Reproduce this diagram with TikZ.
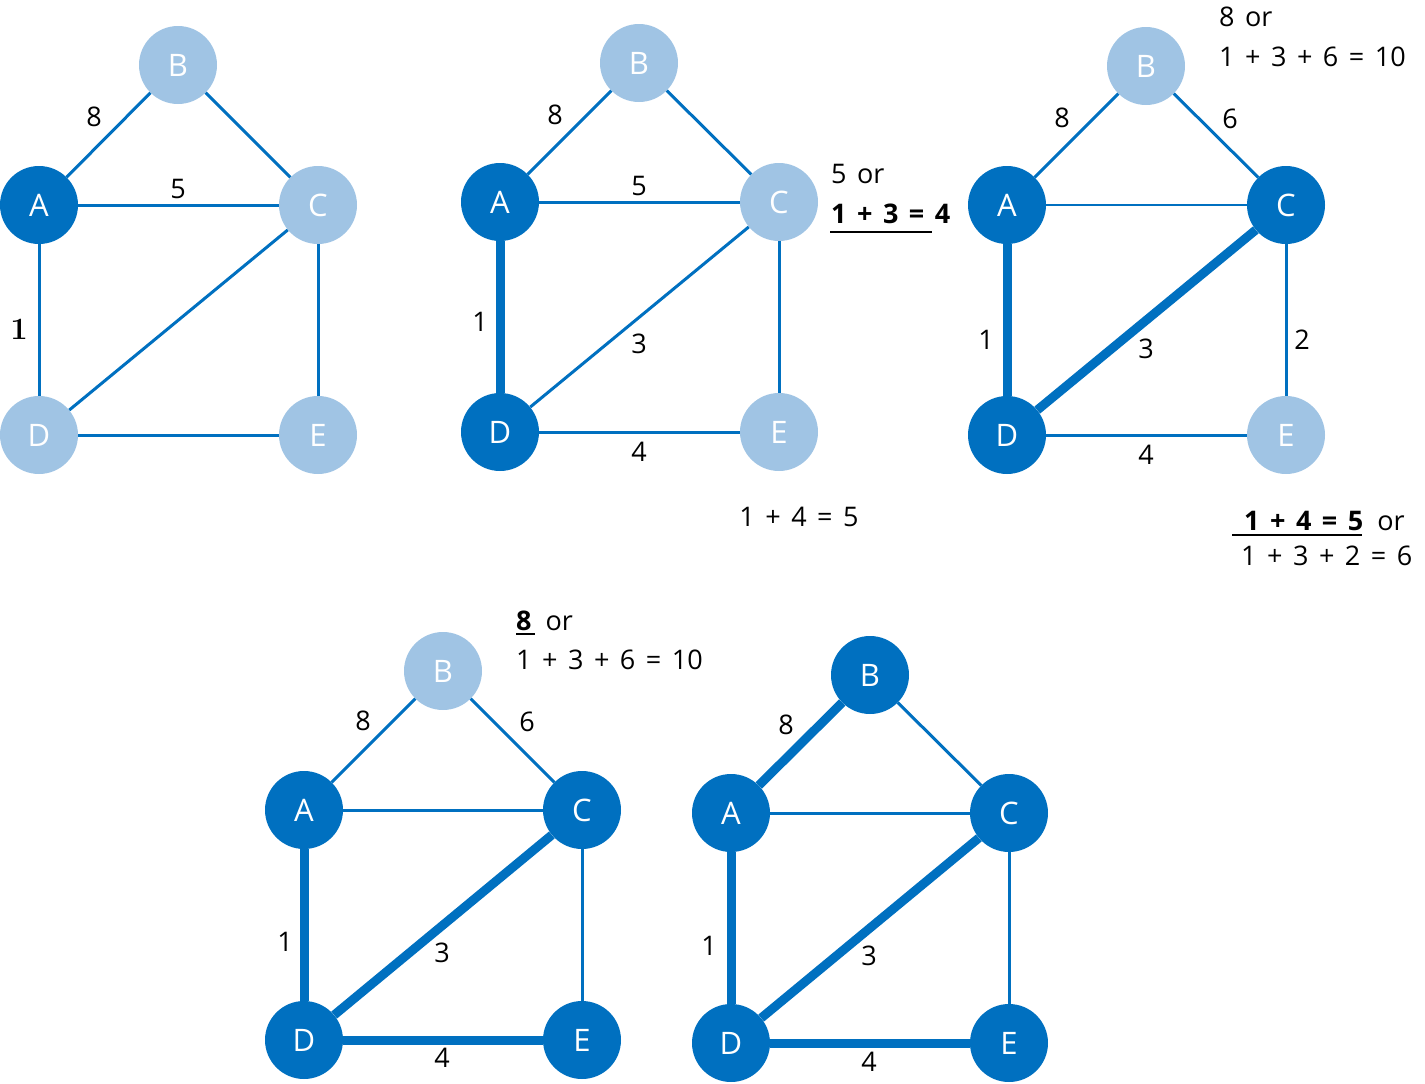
\documentclass[tikz,border=0pt]{standalone}
\usepackage{fontspec}
\setsansfont{Open Sans}
\newcommand\widespaces{\spaceskip=10.5pt\relax}
\begin{document}
\begin{tikzpicture}[x=1pt,y=-1pt,
  dk/.style={circle,fill=dkblue,minimum size=78pt,inner sep=0pt,text=white,font=\sffamily\fontsize{31}{33}\selectfont},
  lt/.style={dk,fill=ltblue},
  thin/.style={draw=dkblue,line width=3pt},
  hair/.style={draw=dkblue,line width=2pt},
  thick/.style={draw=dkblue,line width=9pt},
  lab/.style={font=\sffamily\fontsize{27}{30}\selectfont,inner sep=0pt,execute at begin node=\widespaces},
  txt/.style={lab,anchor=west}]
\definecolor{dkblue}{RGB}{0,112,192}
\definecolor{ltblue}{RGB}{160,196,228}
\useasboundingbox (0,0) rectangle (1425,1084);
% ---------- graph 1
\node[dk] (A1) at (39,205) {A};
\node[lt] (B1) at (178,65) {B};
\node[lt] (C1) at (318,205) {C};
\node[lt] (D1) at (39,435) {D};
\node[lt] (E1) at (318,435) {E};
\draw[thin] (A1) -- (B1);
\draw[thin] (B1) -- (C1);
\draw[thin] (A1) -- (C1);
\draw[thin] (A1) -- (D1);
\draw[thin] (C1) -- (D1);
\draw[thin] (C1) -- (E1);
\draw[thin] (D1) -- (E1);
\node[lab] (l1a) at (94,117) {8};
\node[lab] (l1b) at (178,189) {5};
\node[lab,font=\rmfamily\bfseries\fontsize{31}{33}\selectfont] (l1c) at (19,329) {1};
% ---------- graph 2
\node[dk] (A2) at (500,202) {A};
\node[lt] (B2) at (639,63) {B};
\node[lt] (C2) at (779,202) {C};
\node[dk] (D2) at (500,432) {D};
\node[lt] (E2) at (779,432) {E};
\draw[thin] (A2) -- (B2);
\draw[thin] (B2) -- (C2);
\draw[thin] (A2) -- (C2);
\draw[thick] (A2) -- (D2);
\draw[thin] (C2) -- (D2);
\draw[thin] (C2) -- (E2);
\draw[thin] (D2) -- (E2);
\node[lab] (l2a) at (555,115) {8};
\node[lab] (l2b) at (639,186) {5};
\node[lab] (l2c) at (480,322) {1};
\node[lab] (l2d) at (639,344) {3};
\node[lab] (l2e) at (639,452) {4};
\node[txt] (t2a) at (831,174) {5 or};
\node[txt,font=\sffamily\bfseries\fontsize{27}{30}\selectfont] (t2b) at (831,214) {1 + 3 = 4};
\draw[line width=2pt] (830,232) -- (932,232);
\node[lab] (t2c) at (799,517) {1 + 4 = 5};
% ---------- graph 3
\node[dk] (A3) at (1007,205) {A};
\node[lt] (B3) at (1146,66) {B};
\node[dk] (C3) at (1286,205) {C};
\node[dk] (D3) at (1007,435) {D};
\node[lt] (E3) at (1286,435) {E};
\draw[thin] (A3) -- (B3);
\draw[thin] (B3) -- (C3);
\draw[hair] (A3) -- (C3);
\draw[thick] (A3) -- (D3);
\draw[thick] (C3) -- (D3);
\draw[thin] (C3) -- (E3);
\draw[thin] (D3) -- (E3);
\node[lab] (l3a) at (1062,118) {8};
\node[lab] (l3b) at (1230,119) {6};
\node[lab] (l3c) at (986,340) {1};
\node[lab] (l3d) at (1146,349) {3};
\node[lab] (l3e) at (1302,340) {2};
\node[lab] (l3f) at (1146,455) {4};
\node[txt] (t3a) at (1219,17) {8 or};
\node[txt] (t3b) at (1219,57) {1 + 3 + 6 = 10};
\node[txt] (t3c) at (1244,521) {\bfseries 1 + 4 = 5\hspace{14pt}\mdseries or};
\draw[line width=2pt] (1232,535) -- (1362,535);
\node[txt] (t3d) at (1241,556) {1 + 3 + 2 = 6};
% ---------- graph 4
\node[dk] (A4) at (304,810) {A};
\node[lt] (B4) at (443,671) {B};
\node[dk] (C4) at (582,810) {C};
\node[dk] (D4) at (304,1040) {D};
\node[dk] (E4) at (582,1040) {E};
\draw[thin] (A4) -- (B4);
\draw[thin] (B4) -- (C4);
\draw[thin] (A4) -- (C4);
\draw[thick] (A4) -- (D4);
\draw[thick] (C4) -- (D4);
\draw[thin] (C4) -- (E4);
\draw[thick] (D4) -- (E4);
\node[lab] (l4a) at (363,721) {8};
\node[lab] (l4b) at (527,722) {6};
\node[lab] (l4c) at (285,942) {1};
\node[lab] (l4d) at (442,953) {3};
\node[lab] (l4e) at (442,1058) {4};
\node[txt] (t4a) at (516,621) {\bfseries 8\hspace{14pt}\mdseries or};
\draw[line width=2pt] (516,634) -- (535,634);
\node[txt] (t4b) at (516,660) {1 + 3 + 6 = 10};
% ---------- graph 5
\node[dk] (A5) at (731,813) {A};
\node[dk] (B5) at (870,675) {B};
\node[dk] (C5) at (1009,813) {C};
\node[dk] (D5) at (731,1043) {D};
\node[dk] (E5) at (1009,1043) {E};
\draw[thick] (A5) -- (B5);
\draw[thin] (B5) -- (C5);
\draw[thin] (A5) -- (C5);
\draw[thick] (A5) -- (D5);
\draw[thick] (C5) -- (D5);
\draw[thin] (C5) -- (E5);
\draw[thick] (D5) -- (E5);
\node[lab] (l5a) at (786,725) {8};
\node[lab] (l5b) at (709,946) {1};
\node[lab] (l5c) at (869,956) {3};
\node[lab] (l5d) at (869,1062) {4};
\end{tikzpicture}
\end{document}
